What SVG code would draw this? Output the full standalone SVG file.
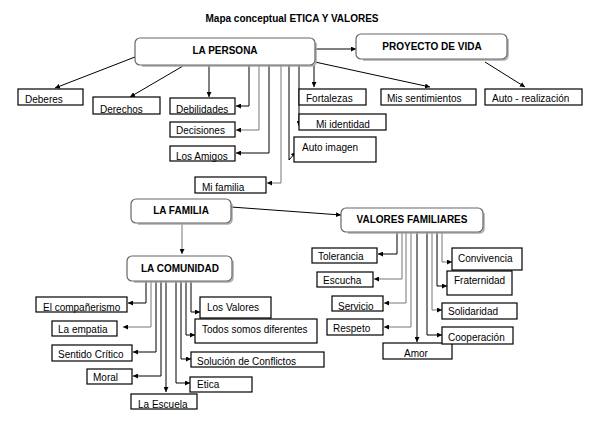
<svg xmlns="http://www.w3.org/2000/svg" width="596" height="427" viewBox="0 0 596 427">
<defs>
<marker id="ah" markerUnits="userSpaceOnUse" markerWidth="6" markerHeight="5" refX="5" refY="2.5" orient="auto">
<path d="M0,0 L5,2.5 L0,5 Z" fill="#000"/>
</marker>
<style>
text{font-family:"Liberation Sans",Arial,sans-serif;font-size:10px;fill:#000}
.t{font-weight:bold}
.c{text-anchor:middle}
.b{fill:#fff;stroke:#000;stroke-width:1.2}
.r{fill:#fff;stroke:#666;stroke-width:1.2}
.sh{fill:none;stroke:#aaa;stroke-width:1.5}
#edges path{fill:none;stroke:#000;stroke-width:1;marker-end:url(#ah)}
#edges path.g{stroke:#777}
</style>
</defs>
<rect width="596" height="427" fill="#fff"/>
<text class="t c" x="292" y="22">Mapa conceptual ETICA Y VALORES</text>

<g id="edges">
<path d="M135,57 L55,88"/>
<path d="M183,66 L130,97"/>
<path d="M209,65 V97"/>
<path d="M249,65 V106 H236"/>
<path class="g" d="M259,65 V130 H236"/>
<path d="M269,65 V153 H236"/>
<path class="g" d="M281,65 V183 H267"/>
<path d="M289,65 V160 L296,152"/>
<path d="M299,65 V126"/>
<path d="M314,65 V87"/>
<path d="M315,62 L430,87"/>
<path d="M315,49 H356"/>
<path d="M485,62 L525,87"/>
<path d="M231,207 L341,215"/>
<path class="g" d="M182,223 V254"/>
<path d="M146,281 V303 H128"/>
<path class="g" d="M151,281 V327 H123"/>
<path d="M156,281 V352 H133"/>
<path d="M161,281 V376 H133"/>
<path d="M166,281 V392"/>
<path d="M176,281 V383 H190"/>
<path d="M181,281 V359 H191"/>
<path d="M186,281 V335 H195"/>
<path d="M191,281 V312 H200"/>
<path d="M397,232 V254 H378"/>
<path class="g" d="M402,232 V279 H374"/>
<path class="g" d="M406,232 V303 H384"/>
<path class="g" d="M411,232 V327 H384"/>
<path d="M417,232 V342"/>
<path d="M427,232 V335 H442"/>
<path class="g" d="M432,232 V310 H442"/>
<path d="M437,232 V286 H447"/>
<path class="g" d="M442,232 V262 H452"/>
</g>

<g id="la-persona"><path class="sh" d="M142,66 H311 Q316,66 316,61 V43"/><rect class="r" x="135" y="38" width="180" height="27" rx="5"/><text class="t c" x="225" y="54">LA PERSONA</text></g>
<g id="proyecto"><path class="sh" d="M363,60 H503 Q508,60 508,55 V39"/><rect class="r" x="356" y="34" width="151" height="25" rx="5"/><text class="t c" x="432" y="50">PROYECTO DE VIDA</text></g>
<g id="deberes"><rect class="b" x="18" y="89" width="65" height="16"/><text x="25" y="103">Deberes</text></g>
<g id="derechos"><rect class="b" x="93" y="97" width="67" height="17"/><text x="100" y="113">Derechos</text></g>
<g id="debilidades"><rect class="b" x="170" y="98" width="65" height="16"/><text x="176" y="113">Debilidades</text></g>
<g id="decisiones"><rect class="b" x="170" y="122" width="65" height="15"/><text x="176" y="134">Decisiones</text></g>
<g id="los-amigos"><rect class="b" x="170" y="146" width="65" height="15"/><text x="176" y="160">Los Amigos</text></g>
<g id="mi-familia"><rect class="b" x="195" y="177" width="71" height="16"/><text x="202" y="191">Mi familia</text></g>
<g id="fortalezas"><rect class="b" x="299" y="89" width="67" height="16"/><text x="306" y="102">Fortalezas</text></g>
<g id="mis-sentimientos"><rect class="b" x="381" y="89" width="95" height="16"/><text x="387" y="102">Mis sentimientos</text></g>
<g id="auto-realizacion"><rect class="b" x="485" y="89" width="97" height="16"/><text x="492" y="102">Auto - realización</text></g>
<g id="mi-identidad"><rect class="b" x="299" y="114" width="87" height="16"/><text x="316" y="128">Mi identidad</text></g>
<g id="auto-imagen"><rect class="b" x="294" y="137" width="82" height="25"/><text x="302" y="151">Auto imagen</text></g>

<g id="la-familia"><path class="sh" d="M138,224 H227 Q232,224 232,219 V204"/><rect class="r" x="131" y="199" width="100" height="24" rx="5"/><text class="t c" x="181" y="214">LA FAMILIA</text></g>
<g id="valores-familiares"><path class="sh" d="M348,233 H479 Q484,233 484,228 V213"/><rect class="r" x="341" y="208" width="142" height="24" rx="5"/><text class="t c" x="412" y="223">VALORES FAMILIARES</text></g>
<g id="la-comunidad"><path class="sh" d="M134,282 H228 Q233,282 233,277 V261"/><rect class="r" x="127" y="256" width="105" height="25" rx="5"/><text class="t c" x="180" y="272">LA COMUNIDAD</text></g>

<g id="companerismo"><rect class="b" x="36" y="297" width="91" height="15"/><text x="43" y="311">El compañerismo</text></g>
<g id="empatia"><rect class="b" x="52" y="321" width="65" height="15"/><text x="58" y="333">La empatia</text></g>
<g id="sentido-critico"><rect class="b" x="52" y="345" width="80" height="16"/><text x="58" y="358">Sentido Crítico</text></g>
<g id="moral"><rect class="b" x="87" y="369" width="45" height="15"/><text x="93" y="381">Moral</text></g>
<g id="la-escuela"><rect class="b" x="131" y="394" width="66" height="15"/><text x="138" y="408">La Escuela</text></g>
<g id="etica"><rect class="b" x="190" y="377" width="62" height="15"/><text x="197" y="388">Etica</text></g>
<g id="solucion"><rect class="b" x="191" y="352" width="133" height="15"/><text x="197" y="365">Solución de Conflictos</text></g>
<g id="los-valores"><rect class="b" x="200" y="297" width="71" height="21"/><text x="207" y="311">Los Valores</text></g>
<g id="todos"><rect class="b" x="195" y="319" width="122" height="24"/><text x="202" y="333">Todos somos diferentes</text></g>

<g id="tolerancia"><rect class="b" x="312" y="248" width="65" height="15"/><text x="318" y="260">Tolerancia</text></g>
<g id="escucha"><rect class="b" x="317" y="272" width="56" height="15"/><text x="323" y="284">Escucha</text></g>
<g id="servicio"><rect class="b" x="332" y="296" width="51" height="15"/><text x="338" y="310">Servicio</text></g>
<g id="respeto"><rect class="b" x="327" y="319" width="56" height="16"/><text x="333" y="332">Respeto</text></g>
<g id="amor"><rect class="b" x="383" y="343" width="69" height="16"/><text x="404" y="357">Amor</text></g>
<g id="convivencia"><rect class="b" x="452" y="248" width="70" height="22"/><text x="458" y="262">Convivencia</text></g>
<g id="fraternidad"><rect class="b" x="447" y="271" width="65" height="24"/><text x="454" y="284">Fraternidad</text></g>
<g id="solidaridad"><rect class="b" x="442" y="303" width="75" height="16"/><text x="448" y="315">Solidaridad</text></g>
<g id="cooperacion"><rect class="b" x="442" y="327" width="71" height="17"/><text x="448" y="341">Cooperación</text></g>
</svg>
